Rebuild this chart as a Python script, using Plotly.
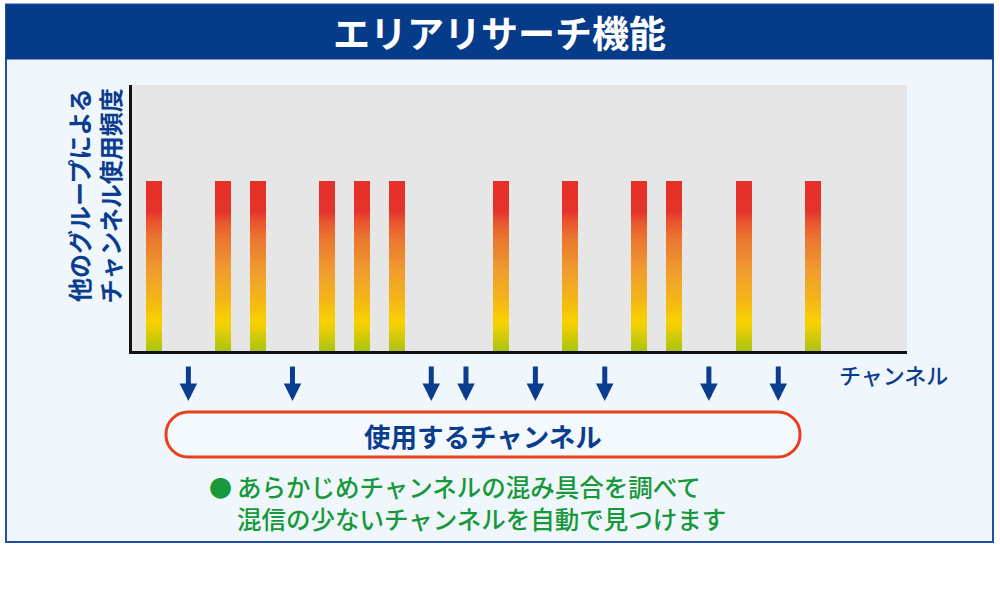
import plotly.graph_objects as go

# ---- data ----
channels = list(range(20))
usage = [64, 0, 64, 64, 0, 64, 64, 64, 0, 0, 64, 0, 64, 0, 64, 64, 0, 64, 0, 64]
selected_channels = [1, 4, 8, 9, 11, 13, 16, 18]
title_text = "エリアリサーチ機能"
y_title_lines = ["他のグループによる", "チャンネル使用頻度"]
x_title = "チャンネル"
box_label = "使用するチャンネル"
note_lines = ["あらかじめチャンネルの混み具合を調べて", "混信の少ないチャンネルを自動で見つけます"]

# ---- geometry helpers (plot area in page pixels) ----
PL, PR, PT, PB = 132, 907, 85, 351
W, H = 1000, 600
def px(x):
    return (x - PL) / (PR - PL)
def py(y):
    return (PB - y) / (PB - PT)

FONT = "Noto Sans CJK JP"
NAVY = "#0B3D8F"
GREEN = "#17983A"

# gradient stops for the bars (bottom -> top)
stops = [
    (0.00, (0xA9, 0xC4, 0x12)),
    (0.06, (0xC8, 0xC8, 0x0A)),
    (0.17, (0xF8, 0xD2, 0x00)),
    (0.30, (0xF5, 0xB6, 0x17)),
    (0.47, (0xF0, 0x9C, 0x2E)),
    (0.66, (0xEA, 0x76, 0x30)),
    (0.76, (0xE8, 0x54, 0x2D)),
    (0.82, (0xE5, 0x33, 0x2B)),
    (1.00, (0xE5, 0x30, 0x2A)),
]
def grad(t):
    for (t0, c0), (t1, c1) in zip(stops[:-1], stops[1:]):
        if t <= t1:
            f = (t - t0) / (t1 - t0) if t1 > t0 else 0
            c = [round(a + (b - a) * f) for a, b in zip(c0, c1)]
            return "rgb(%d,%d,%d)" % tuple(c)
    return "rgb(%d,%d,%d)" % stops[-1][1]

fig = go.Figure()
N = 48
for i in range(N):
    fig.add_trace(go.Bar(
        x=channels,
        y=[v / N for v in usage],
        width=0.46,
        marker=dict(color=grad((i + 0.5) / N), line=dict(width=0)),
        hoverinfo="skip",
        showlegend=False,
    ))

shapes = [
    # outer light box
    dict(type="rect", xref="paper", yref="paper", x0=px(6), x1=px(993), y0=py(4.5), y1=py(542),
         fillcolor="#F0F7FC", line=dict(color="#1F4FA8", width=2), layer="below"),
    # banner
    dict(type="rect", xref="paper", yref="paper", x0=px(6), x1=px(993), y0=py(4.5), y1=py(59.5),
         fillcolor="#063B8A", line=dict(width=0), layer="below"),
    # plot area
    dict(type="rect", xref="paper", yref="paper", x0=0, x1=1, y0=0, y1=1,
         fillcolor="#E6E6E6", line=dict(width=0), layer="below"),
]

# rounded rectangle (stadium)
x0, x1, y0, y1, r = 166, 800, 412, 457, 22
k = 0.55 * r
def P(x, y):
    return "%.5f,%.5f" % (px(x), py(y))
path = ("M " + P(x0 + r, y0) + " L " + P(x1 - r, y0) +
        " C " + P(x1 - r + k, y0) + " " + P(x1, y0 + r - k) + " " + P(x1, y0 + r) +
        " L " + P(x1, y1 - r) +
        " C " + P(x1, y1 - r + k) + " " + P(x1 - r + k, y1) + " " + P(x1 - r, y1) +
        " L " + P(x0 + r, y1) +
        " C " + P(x0 + r - k, y1) + " " + P(x0, y1 - r + k) + " " + P(x0, y1 - r) +
        " L " + P(x0, y0 + r) +
        " C " + P(x0, y0 + r - k) + " " + P(x0 + r - k, y0) + " " + P(x0 + r, y0) + " Z")
shapes.append(dict(type="path", xref="paper", yref="paper", path=path,
                   fillcolor="#F4F9FD", line=dict(color="#E8401C", width=3)))

annotations = []
# title
annotations.append(dict(text=title_text, xref="paper", yref="paper", x=px(499), y=py(32),
                        xanchor="center", yanchor="middle", showarrow=False,
                        font=dict(family=FONT, size=37, color="white", weight="bold")))
# y title (vertical)
annotations.append(dict(text="<br>".join(y_title_lines), xref="paper", yref="paper",
                        x=px(93), y=py(87), xanchor="center", yanchor="top", textangle=-90,
                        align="right", showarrow=False,
                        font=dict(family=FONT, size=24, color=NAVY, weight="bold")))
# x title
annotations.append(dict(text=x_title, xref="paper", yref="paper", x=px(837), y=py(374),
                        xanchor="left", yanchor="middle", showarrow=False,
                        font=dict(family=FONT, size=22, color=NAVY, weight=500)))
# arrows for selected channels
for ch in selected_channels:
    annotations.append(dict(text="", x=ch, xref="x", y=py(401), yref="paper",
                            ax=0, ay=-36, showarrow=True, arrowhead=2, arrowsize=0.7,
                            arrowwidth=5, arrowcolor=NAVY, standoff=0))
# label in rounded box
annotations.append(dict(text=box_label, xref="paper", yref="paper", x=px(483), y=py(435),
                        xanchor="center", yanchor="middle", showarrow=False,
                        font=dict(family=FONT, size=26.5, color=NAVY, weight="bold")))
# note
annotations.append(dict(text="●", xref="paper", yref="paper", x=px(207), y=py(487),
                        xanchor="left", yanchor="middle", showarrow=False,
                        font=dict(family=FONT, size=23, color=GREEN)))
annotations.append(dict(text="<br>".join(note_lines), xref="paper", yref="paper",
                        x=px(235), y=py(502), xanchor="left", yanchor="middle",
                        align="left", showarrow=False,
                        font=dict(family=FONT, size=24.5, color=GREEN, weight=500)))

fig.update_layout(
    width=W, height=H,
    margin=dict(l=PL, r=W - PR, t=PT, b=H - PB, pad=0),
    paper_bgcolor="white", plot_bgcolor="rgba(0,0,0,0)",
    barmode="stack", bargap=0,
    showlegend=False,
    shapes=shapes, annotations=annotations,
    xaxis=dict(range=[-0.625, 21.71], showgrid=False, zeroline=False, showticklabels=False,
               ticks="", showline=True, linecolor="#111111", linewidth=3, fixedrange=True),
    yaxis=dict(range=[0, 100], showgrid=False, zeroline=False, showticklabels=False,
               ticks="", showline=True, linecolor="#111111", linewidth=3, fixedrange=True),
)

fig.write_html("out.html", config={"displayModeBar": False},
               post_script="document.body.style.margin='0';document.body.style.overflow='hidden';")
